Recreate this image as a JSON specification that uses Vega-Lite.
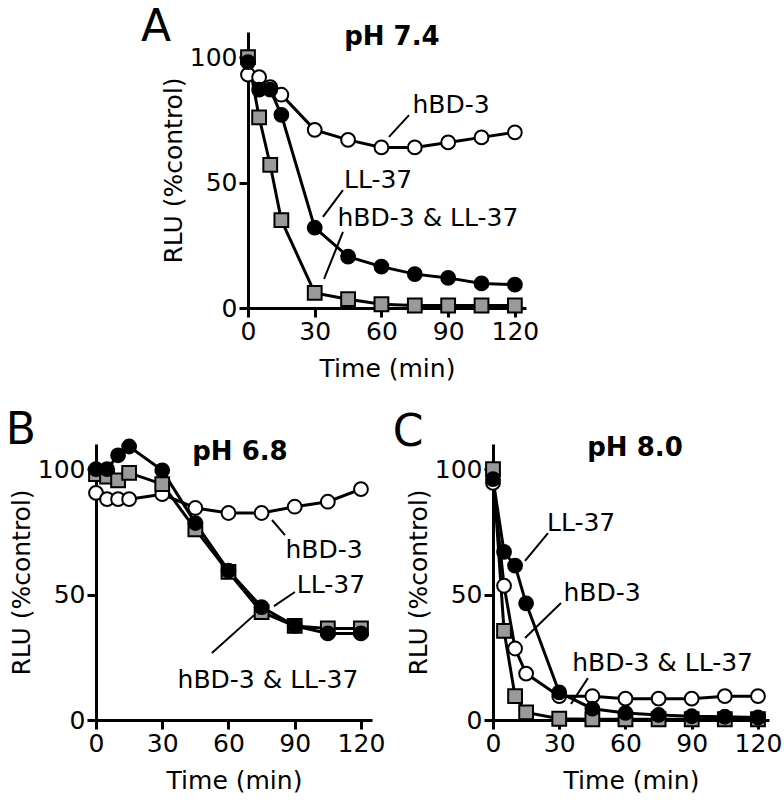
{
  "$schema": "https://vega.github.io/schema/vega-lite/v6.json",
  "background": "white",
  "padding": 5,
  "config": {
    "view": {"stroke": null},
    "axis": {
      "grid": false,
      "domainColor": "black",
      "domainWidth": 3,
      "tickColor": "black",
      "tickWidth": 3,
      "tickSize": 9,
      "labelFont": "DejaVu Sans",
      "labelFontSize": 25,
      "labelColor": "black",
      "labelPadding": 2,
      "labelFlush": false,
      "labelOverlap": false,
      "titleFont": "DejaVu Sans",
      "titleFontSize": 25,
      "titleFontWeight": "normal",
      "titleColor": "black"
    },
    "axisX": {"titlePadding": 12},
    "axisY": {"titlePadding": 3}
  },
  "datasets": {
    "pts": [
      {"panel": "A", "series": "hBD-3", "t": 0, "v": 93},
      {"panel": "A", "series": "hBD-3", "t": 5, "v": 92},
      {"panel": "A", "series": "hBD-3", "t": 10, "v": 88},
      {"panel": "A", "series": "hBD-3", "t": 15, "v": 85},
      {"panel": "A", "series": "hBD-3", "t": 30, "v": 71},
      {"panel": "A", "series": "hBD-3", "t": 45, "v": 67},
      {"panel": "A", "series": "hBD-3", "t": 60, "v": 64},
      {"panel": "A", "series": "hBD-3", "t": 75, "v": 64},
      {"panel": "A", "series": "hBD-3", "t": 90, "v": 66},
      {"panel": "A", "series": "hBD-3", "t": 105, "v": 68},
      {"panel": "A", "series": "hBD-3", "t": 120, "v": 70},
      {"panel": "A", "series": "hBD-3 & LL-37", "t": 0, "v": 100},
      {"panel": "A", "series": "hBD-3 & LL-37", "t": 5, "v": 76},
      {"panel": "A", "series": "hBD-3 & LL-37", "t": 10, "v": 57},
      {"panel": "A", "series": "hBD-3 & LL-37", "t": 15, "v": 35},
      {"panel": "A", "series": "hBD-3 & LL-37", "t": 30, "v": 6},
      {"panel": "A", "series": "hBD-3 & LL-37", "t": 45, "v": 3.5},
      {"panel": "A", "series": "hBD-3 & LL-37", "t": 60, "v": 1.5},
      {"panel": "A", "series": "hBD-3 & LL-37", "t": 75, "v": 1},
      {"panel": "A", "series": "hBD-3 & LL-37", "t": 90, "v": 1},
      {"panel": "A", "series": "hBD-3 & LL-37", "t": 105, "v": 1},
      {"panel": "A", "series": "hBD-3 & LL-37", "t": 120, "v": 1},
      {"panel": "A", "series": "LL-37", "t": 0, "v": 98},
      {"panel": "A", "series": "LL-37", "t": 5, "v": 87},
      {"panel": "A", "series": "LL-37", "t": 10, "v": 87},
      {"panel": "A", "series": "LL-37", "t": 15, "v": 77},
      {"panel": "A", "series": "LL-37", "t": 30, "v": 32},
      {"panel": "A", "series": "LL-37", "t": 45, "v": 20.5},
      {"panel": "A", "series": "LL-37", "t": 60, "v": 16.5},
      {"panel": "A", "series": "LL-37", "t": 75, "v": 13.5},
      {"panel": "A", "series": "LL-37", "t": 90, "v": 12},
      {"panel": "A", "series": "LL-37", "t": 105, "v": 9.8},
      {"panel": "A", "series": "LL-37", "t": 120, "v": 9.3},
      {"panel": "B", "series": "hBD-3", "t": 0, "v": 90.5},
      {"panel": "B", "series": "hBD-3", "t": 5, "v": 88},
      {"panel": "B", "series": "hBD-3", "t": 10, "v": 88},
      {"panel": "B", "series": "hBD-3", "t": 15, "v": 88},
      {"panel": "B", "series": "hBD-3", "t": 30, "v": 90},
      {"panel": "B", "series": "hBD-3", "t": 45, "v": 84.5},
      {"panel": "B", "series": "hBD-3", "t": 60, "v": 82.5},
      {"panel": "B", "series": "hBD-3", "t": 75, "v": 82.5},
      {"panel": "B", "series": "hBD-3", "t": 90, "v": 85},
      {"panel": "B", "series": "hBD-3", "t": 105, "v": 87},
      {"panel": "B", "series": "hBD-3", "t": 120, "v": 92},
      {"panel": "B", "series": "hBD-3 & LL-37", "t": 0, "v": 98},
      {"panel": "B", "series": "hBD-3 & LL-37", "t": 5, "v": 97},
      {"panel": "B", "series": "hBD-3 & LL-37", "t": 10, "v": 95.5},
      {"panel": "B", "series": "hBD-3 & LL-37", "t": 15, "v": 98.5},
      {"panel": "B", "series": "hBD-3 & LL-37", "t": 30, "v": 94},
      {"panel": "B", "series": "hBD-3 & LL-37", "t": 45, "v": 76},
      {"panel": "B", "series": "hBD-3 & LL-37", "t": 60, "v": 59},
      {"panel": "B", "series": "hBD-3 & LL-37", "t": 75, "v": 43},
      {"panel": "B", "series": "hBD-3 & LL-37", "t": 90, "v": 37.5},
      {"panel": "B", "series": "hBD-3 & LL-37", "t": 105, "v": 36.5},
      {"panel": "B", "series": "hBD-3 & LL-37", "t": 120, "v": 36.5},
      {"panel": "B", "series": "LL-37", "t": 0, "v": 100},
      {"panel": "B", "series": "LL-37", "t": 5, "v": 100},
      {"panel": "B", "series": "LL-37", "t": 10, "v": 105.5},
      {"panel": "B", "series": "LL-37", "t": 15, "v": 109},
      {"panel": "B", "series": "LL-37", "t": 30, "v": 99.5},
      {"panel": "B", "series": "LL-37", "t": 45, "v": 78.5},
      {"panel": "B", "series": "LL-37", "t": 60, "v": 59.5},
      {"panel": "B", "series": "LL-37", "t": 75, "v": 45},
      {"panel": "B", "series": "LL-37", "t": 90, "v": 37.5},
      {"panel": "B", "series": "LL-37", "t": 105, "v": 34.5},
      {"panel": "B", "series": "LL-37", "t": 120, "v": 34.5},
      {"panel": "C", "series": "hBD-3", "t": 0, "v": 94.5},
      {"panel": "C", "series": "hBD-3", "t": 5, "v": 53.5},
      {"panel": "C", "series": "hBD-3", "t": 10, "v": 28.5},
      {"panel": "C", "series": "hBD-3", "t": 15, "v": 18.5},
      {"panel": "C", "series": "hBD-3", "t": 30, "v": 9.5},
      {"panel": "C", "series": "hBD-3", "t": 45, "v": 9.5},
      {"panel": "C", "series": "hBD-3", "t": 60, "v": 8.5},
      {"panel": "C", "series": "hBD-3", "t": 75, "v": 8.5},
      {"panel": "C", "series": "hBD-3", "t": 90, "v": 8.5},
      {"panel": "C", "series": "hBD-3", "t": 105, "v": 9.5},
      {"panel": "C", "series": "hBD-3", "t": 120, "v": 9.5},
      {"panel": "C", "series": "hBD-3 & LL-37", "t": 0, "v": 100},
      {"panel": "C", "series": "hBD-3 & LL-37", "t": 5, "v": 35.5},
      {"panel": "C", "series": "hBD-3 & LL-37", "t": 10, "v": 9.5},
      {"panel": "C", "series": "hBD-3 & LL-37", "t": 15, "v": 3},
      {"panel": "C", "series": "hBD-3 & LL-37", "t": 30, "v": 0.5},
      {"panel": "C", "series": "hBD-3 & LL-37", "t": 45, "v": 0.3},
      {"panel": "C", "series": "hBD-3 & LL-37", "t": 60, "v": 0.3},
      {"panel": "C", "series": "hBD-3 & LL-37", "t": 75, "v": 0.3},
      {"panel": "C", "series": "hBD-3 & LL-37", "t": 90, "v": 0.3},
      {"panel": "C", "series": "hBD-3 & LL-37", "t": 105, "v": 0.3},
      {"panel": "C", "series": "hBD-3 & LL-37", "t": 120, "v": 0.3},
      {"panel": "C", "series": "LL-37", "t": 0, "v": 96},
      {"panel": "C", "series": "LL-37", "t": 5, "v": 67},
      {"panel": "C", "series": "LL-37", "t": 10, "v": 61.5},
      {"panel": "C", "series": "LL-37", "t": 15, "v": 46.5},
      {"panel": "C", "series": "LL-37", "t": 30, "v": 11},
      {"panel": "C", "series": "LL-37", "t": 45, "v": 4.5},
      {"panel": "C", "series": "LL-37", "t": 60, "v": 2.8},
      {"panel": "C", "series": "LL-37", "t": 75, "v": 2},
      {"panel": "C", "series": "LL-37", "t": 90, "v": 1.5},
      {"panel": "C", "series": "LL-37", "t": 105, "v": 1.3},
      {"panel": "C", "series": "LL-37", "t": 120, "v": 1}
    ],
    "leaders": [
      {"panel": "A", "t": 63.4, "v": 68.2, "t2": 72.4, "v2": 76.9},
      {"panel": "A", "t": 33.7, "v": 36.3, "t2": 42.7, "v2": 47},
      {"panel": "A", "t": 34.2, "v": 11.6, "t2": 42.7, "v2": 30.3},
      {"panel": "B", "t": 79.7, "v": 79.7, "t2": 85.6, "v2": 73.7},
      {"panel": "B", "t": 80.6, "v": 45.4, "t2": 90.1, "v2": 51},
      {"panel": "B", "t": 52.5, "v": 26.7, "t2": 71.6, "v2": 41.8},
      {"panel": "C", "t": 14.5, "v": 63.4, "t2": 24.9, "v2": 74.5},
      {"panel": "C", "t": 14.5, "v": 32.7, "t2": 30.8, "v2": 46.6},
      {"panel": "C", "t": 35.3, "v": 6.4, "t2": 43, "v2": 16.7}
    ],
    "labels": [
      {"panel": "A", "kind": "label", "label": "hBD-3", "t": 91.3, "v": 80.9},
      {"panel": "A", "kind": "label", "label": "LL-37", "t": 58.5, "v": 51},
      {"panel": "A", "kind": "label", "label": "hBD-3 & LL-37", "t": 80.9, "v": 35.9},
      {"panel": "A", "kind": "title", "label": "pH 7.4", "t": 64.7, "v": 108},
      {"panel": "A", "kind": "letter", "label": "A", "t": -41.4, "v": 111.6},
      {"panel": "B", "kind": "label", "label": "hBD-3", "t": 103.3, "v": 67.8},
      {"panel": "B", "kind": "label", "label": "LL-37", "t": 106.4, "v": 53.8},
      {"panel": "B", "kind": "label", "label": "hBD-3 & LL-37", "t": 77.9, "v": 15.9},
      {"panel": "B", "kind": "title", "label": "pH 6.8", "t": 65.2, "v": 106.8},
      {"panel": "B", "kind": "letter", "label": "B", "t": -34, "v": 115.2},
      {"panel": "C", "kind": "label", "label": "LL-37", "t": 39.9, "v": 78.5},
      {"panel": "C", "kind": "label", "label": "hBD-3", "t": 49.4, "v": 50.6},
      {"panel": "C", "kind": "label", "label": "hBD-3 & LL-37", "t": 76.8, "v": 22.7},
      {"panel": "C", "kind": "title", "label": "pH 8.0", "t": 64.3, "v": 108.4},
      {"panel": "C", "kind": "letter", "label": "C", "t": -38.5, "v": 114.4}
    ]
  },
  "spacing": 27,
  "vconcat": [
    {
      "spacing": 0,
      "hconcat": [
        {"width": 44, "height": 20, "data": {"values": []}, "mark": "point", "encoding": {}},
        {
          "width": 278, "height": 276,
          "encoding": {
            "x": {"field": "t", "type": "quantitative", "scale": {"domain": [0, 125], "nice": false, "zero": false}, "axis": {"values": [0, 30, 60, 90, 120], "title": "Time (min)"}},
            "y": {"field": "v", "type": "quantitative", "scale": {"domain": [0, 110], "nice": false}, "axis": {"values": [0, 50, 100], "title": "RLU (%control)"}}
          },
          "layer": [
            {"data": {"name": "pts"}, "transform": [{"filter": "datum.panel === 'A'"}], "mark": {"type": "line", "color": "black", "strokeWidth": 3}, "encoding": {"detail": {"field": "series"}}},
            {"data": {"name": "pts"}, "transform": [{"filter": "datum.panel === 'A'"}], "mark": {"type": "point", "filled": true, "opacity": 1, "stroke": "black", "strokeWidth": 2},
              "encoding": {
                "shape": {"field": "series", "scale": {"domain": ["hBD-3", "LL-37", "hBD-3 & LL-37"], "range": ["circle", "circle", "square"]}, "legend": null},
                "fill": {"field": "series", "scale": {"domain": ["hBD-3", "LL-37", "hBD-3 & LL-37"], "range": ["white", "black", "#9a9a9a"]}, "legend": null},
                "size": {"field": "series", "scale": {"domain": ["hBD-3", "LL-37", "hBD-3 & LL-37"], "range": [190, 190, 240]}, "legend": null}
              }},
            {"data": {"name": "leaders"}, "transform": [{"filter": "datum.panel === 'A'"}], "mark": {"type": "rule", "color": "black", "strokeWidth": 2}, "encoding": {"x2": {"field": "t2"}, "y2": {"field": "v2"}}},
            {"data": {"name": "labels"}, "transform": [{"filter": "datum.panel === 'A' && datum.kind === 'label'"}], "mark": {"type": "text", "font": "DejaVu Sans", "fontSize": 25, "color": "black"}, "encoding": {"text": {"field": "label"}}},
            {"data": {"name": "labels"}, "transform": [{"filter": "datum.panel === 'A' && datum.kind === 'title'"}], "mark": {"type": "text", "font": "DejaVu Sans", "fontSize": 26, "fontWeight": "bold", "color": "black"}, "encoding": {"text": {"field": "label"}}},
            {"data": {"name": "labels"}, "transform": [{"filter": "datum.panel === 'A' && datum.kind === 'letter'"}], "mark": {"type": "text", "font": "DejaVu Sans", "fontSize": 44, "color": "black"}, "encoding": {"text": {"field": "label"}}}
          ]
        }
      ]
    },
    {
      "spacing": 7,
      "hconcat": [
        {
          "width": 276, "height": 276,
          "encoding": {
            "x": {"field": "t", "type": "quantitative", "scale": {"domain": [0, 125], "nice": false, "zero": false}, "axis": {"values": [0, 30, 60, 90, 120], "title": "Time (min)"}},
            "y": {"field": "v", "type": "quantitative", "scale": {"domain": [0, 110], "nice": false}, "axis": {"values": [0, 50, 100], "title": "RLU (%control)"}}
          },
          "layer": [
            {"data": {"name": "pts"}, "transform": [{"filter": "datum.panel === 'B'"}], "mark": {"type": "line", "color": "black", "strokeWidth": 3}, "encoding": {"detail": {"field": "series"}}},
            {"data": {"name": "pts"}, "transform": [{"filter": "datum.panel === 'B'"}], "mark": {"type": "point", "filled": true, "opacity": 1, "stroke": "black", "strokeWidth": 2},
              "encoding": {
                "shape": {"field": "series", "scale": {"domain": ["hBD-3", "LL-37", "hBD-3 & LL-37"], "range": ["circle", "circle", "square"]}, "legend": null},
                "fill": {"field": "series", "scale": {"domain": ["hBD-3", "LL-37", "hBD-3 & LL-37"], "range": ["white", "black", "#9a9a9a"]}, "legend": null},
                "size": {"field": "series", "scale": {"domain": ["hBD-3", "LL-37", "hBD-3 & LL-37"], "range": [190, 190, 240]}, "legend": null}
              }},
            {"data": {"name": "leaders"}, "transform": [{"filter": "datum.panel === 'B'"}], "mark": {"type": "rule", "color": "black", "strokeWidth": 2}, "encoding": {"x2": {"field": "t2"}, "y2": {"field": "v2"}}},
            {"data": {"name": "labels"}, "transform": [{"filter": "datum.panel === 'B' && datum.kind === 'label'"}], "mark": {"type": "text", "font": "DejaVu Sans", "fontSize": 25, "color": "black"}, "encoding": {"text": {"field": "label"}}},
            {"data": {"name": "labels"}, "transform": [{"filter": "datum.panel === 'B' && datum.kind === 'title'"}], "mark": {"type": "text", "font": "DejaVu Sans", "fontSize": 26, "fontWeight": "bold", "color": "black"}, "encoding": {"text": {"field": "label"}}},
            {"data": {"name": "labels"}, "transform": [{"filter": "datum.panel === 'B' && datum.kind === 'letter'"}], "mark": {"type": "text", "font": "DejaVu Sans", "fontSize": 44, "color": "black"}, "encoding": {"text": {"field": "label"}}}
          ]
        },
        {
          "width": 276, "height": 276,
          "encoding": {
            "x": {"field": "t", "type": "quantitative", "scale": {"domain": [0, 125], "nice": false, "zero": false}, "axis": {"values": [0, 30, 60, 90, 120], "title": "Time (min)"}},
            "y": {"field": "v", "type": "quantitative", "scale": {"domain": [0, 110], "nice": false}, "axis": {"values": [0, 50, 100], "title": "RLU (%control)"}}
          },
          "layer": [
            {"data": {"name": "pts"}, "transform": [{"filter": "datum.panel === 'C'"}], "mark": {"type": "line", "color": "black", "strokeWidth": 3}, "encoding": {"detail": {"field": "series"}}},
            {"data": {"name": "pts"}, "transform": [{"filter": "datum.panel === 'C'"}], "mark": {"type": "point", "filled": true, "opacity": 1, "stroke": "black", "strokeWidth": 2},
              "encoding": {
                "shape": {"field": "series", "scale": {"domain": ["hBD-3", "LL-37", "hBD-3 & LL-37"], "range": ["circle", "circle", "square"]}, "legend": null},
                "fill": {"field": "series", "scale": {"domain": ["hBD-3", "LL-37", "hBD-3 & LL-37"], "range": ["white", "black", "#9a9a9a"]}, "legend": null},
                "size": {"field": "series", "scale": {"domain": ["hBD-3", "LL-37", "hBD-3 & LL-37"], "range": [190, 190, 240]}, "legend": null}
              }},
            {"data": {"name": "leaders"}, "transform": [{"filter": "datum.panel === 'C'"}], "mark": {"type": "rule", "color": "black", "strokeWidth": 2}, "encoding": {"x2": {"field": "t2"}, "y2": {"field": "v2"}}},
            {"data": {"name": "labels"}, "transform": [{"filter": "datum.panel === 'C' && datum.kind === 'label'"}], "mark": {"type": "text", "font": "DejaVu Sans", "fontSize": 25, "color": "black"}, "encoding": {"text": {"field": "label"}}},
            {"data": {"name": "labels"}, "transform": [{"filter": "datum.panel === 'C' && datum.kind === 'title'"}], "mark": {"type": "text", "font": "DejaVu Sans", "fontSize": 26, "fontWeight": "bold", "color": "black"}, "encoding": {"text": {"field": "label"}}},
            {"data": {"name": "labels"}, "transform": [{"filter": "datum.panel === 'C' && datum.kind === 'letter'"}], "mark": {"type": "text", "font": "DejaVu Sans", "fontSize": 44, "color": "black"}, "encoding": {"text": {"field": "label"}}}
          ]
        }
      ]
    }
  ]
}
